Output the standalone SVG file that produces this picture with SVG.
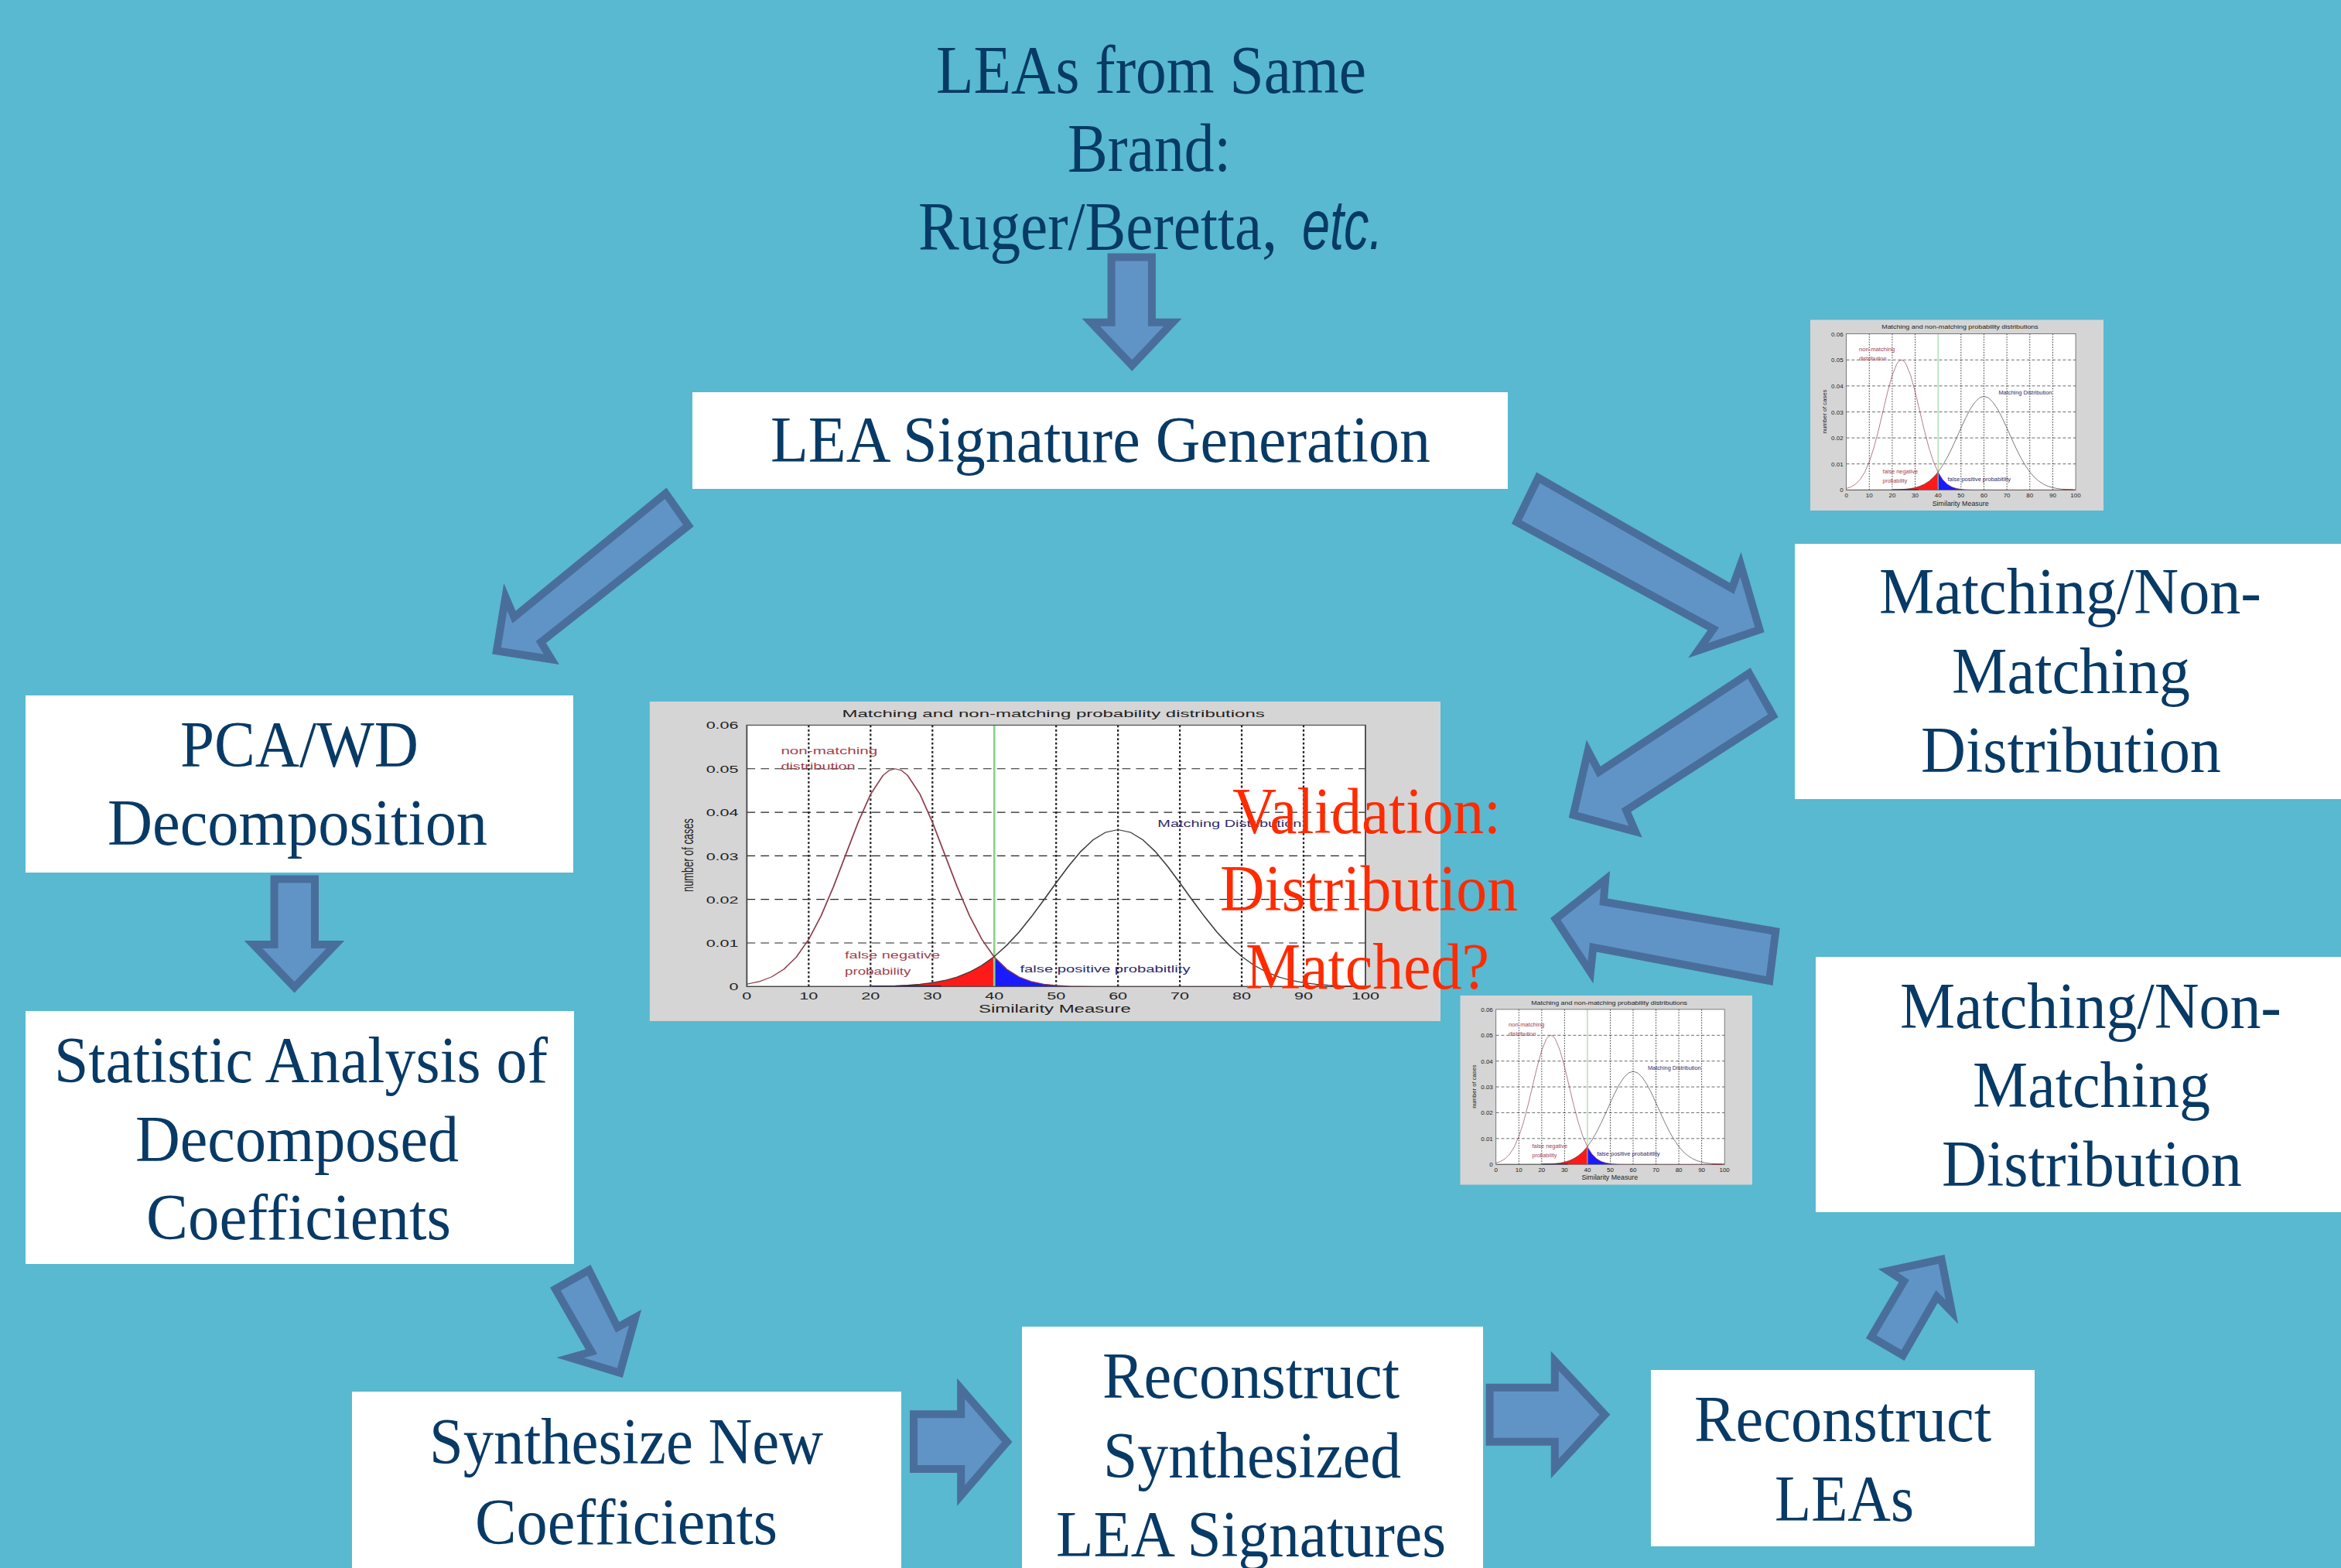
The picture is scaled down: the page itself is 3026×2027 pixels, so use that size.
<svg xmlns="http://www.w3.org/2000/svg" xmlns:xlink="http://www.w3.org/1999/xlink" width="3026" height="2027" viewBox="0 0 3026 2027">
<style>
.bg{fill:#58B9D0}
.box{fill:#FFFFFF}
.t{font-family:"Liberation Serif","Times New Roman",serif;font-size:84px;fill:#083A66}
.ti{font-size:88px}
.v{font-family:"Liberation Serif","Times New Roman",serif;font-size:85px;fill:#FF2B00}
.arrow{fill:#6094C6;stroke:#4A6E9B;stroke-width:20;stroke-linejoin:miter}
.cs{font-family:"Liberation Sans",Arial,sans-serif;font-size:24px;fill:#222222}
.cr{font-family:"Liberation Sans",Arial,sans-serif;font-size:23px;fill:#A2414E}
.cb{font-family:"Liberation Sans",Arial,sans-serif;font-size:23px;fill:#2B2B6B}
.gh{stroke:#222;stroke-width:2;stroke-dasharray:12 8;fill:none}
.gv{stroke:#222;stroke-width:2.5;stroke-dasharray:5 5;fill:none}
</style>
<defs>
<polygon id="a1" points="1431.6,327.5 1493.9,327.5 1493.9,411.7 1527.5,411.7 1463.3,479.7 1398.5,411.7 1431.6,411.7"/>
<polygon id="a2" points="861.5,630.4 896.7,680.4 705.8,831.3 722.8,858.9 636.2,845.5 651.3,754 666.5,789.7"/>
<polygon id="a3" points="349.6,1131.5 412,1131.5 412,1216 445.2,1216 380.6,1283.5 315.7,1216 349.6,1216"/>
<polygon id="a4" points="711.1,1664.6 763.4,1635 800.4,1708.9 829.1,1692.9 804.8,1781 719.4,1755 757,1744.4"/>
<polygon id="a5" points="1176,1823.3 1237.2,1823.3 1237.2,1781.7 1308.4,1864 1237.2,1946.7 1237.2,1904 1176,1904"/>
<polygon id="a6" points="1920.6,1788.7 2004.8,1788.7 2004.8,1746.7 2081.3,1828.7 2004.8,1911 2004.8,1868.7 1920.6,1868.7"/>
<polygon id="a7" points="2411.9,1730 2461.5,1759 2504.6,1684.2 2531.2,1711.6 2513.5,1621.9 2427.8,1640.4 2454.4,1657.8"/>
<polygon id="a8" points="1986.2,610.6 2236.1,753.5 2250.5,713.7 2280.6,817.2 2182.2,850.4 2207.4,814.7 1953.9,677"/>
<polygon id="a9" points="2262.6,863.2 2298.6,926.9 2108.3,1049.4 2122.6,1082.6 2027.8,1057 2050.8,956.5 2068.8,990.7"/>
<polygon id="a10" points="2300.7,1199.9 2291.4,1273.9 2063.7,1230.5 2059.4,1271.3 2004.1,1187.1 2081,1125.9 2078.1,1161.6"/>
<clipPath id="c1"><use xlink:href="#a1" href="#a1"/></clipPath>
<clipPath id="c2"><use xlink:href="#a2" href="#a2"/></clipPath>
<clipPath id="c3"><use xlink:href="#a3" href="#a3"/></clipPath>
<clipPath id="c4"><use xlink:href="#a4" href="#a4"/></clipPath>
<clipPath id="c5"><use xlink:href="#a5" href="#a5"/></clipPath>
<clipPath id="c6"><use xlink:href="#a6" href="#a6"/></clipPath>
<clipPath id="c7"><use xlink:href="#a7" href="#a7"/></clipPath>
<clipPath id="c8"><use xlink:href="#a8" href="#a8"/></clipPath>
<clipPath id="c9"><use xlink:href="#a9" href="#a9"/></clipPath>
<clipPath id="c10"><use xlink:href="#a10" href="#a10"/></clipPath>
<symbol id="chart" viewBox="0 0 1138 740" preserveAspectRatio="none">
<rect x="0" y="0" width="1138" height="740" fill="#D5D5D5"/>
<rect x="140" y="55" width="890" height="605" fill="#FFFFFF"/>
<g class="gv">
<line x1="229" y1="55" x2="229" y2="660"/><line x1="318" y1="55" x2="318" y2="660"/><line x1="407" y1="55" x2="407" y2="660"/><line x1="585" y1="55" x2="585" y2="660"/><line x1="674" y1="55" x2="674" y2="660"/><line x1="763" y1="55" x2="763" y2="660"/><line x1="852" y1="55" x2="852" y2="660"/><line x1="941" y1="55" x2="941" y2="660"/>
</g>
<g class="gh">
<line x1="140" y1="155.9" x2="1030" y2="155.9"/><line x1="140" y1="256.7" x2="1030" y2="256.7"/><line x1="140" y1="357.5" x2="1030" y2="357.5"/><line x1="140" y1="458.3" x2="1030" y2="458.3"/><line x1="140" y1="559.2" x2="1030" y2="559.2"/>
</g>
<polygon fill="#FF1A1A" points="318,660 318,659.5 353.6,658.3 371.4,656.9 389.2,654.7 407,651.2 424.8,645.8 442.6,637.8 460.4,626.4 478.2,610.9 496,590.5 496,660"/>
<polygon fill="#1A1AFF" points="496,660 496,591.8 513.8,619.9 531.6,637.8 549.4,648.5 567.2,654.4 585,657.4 602.8,658.9 620.6,660"/>
<line x1="496" y1="55" x2="496" y2="660" stroke="#8CD08C" stroke-width="3"/>
<polyline fill="none" stroke="#8B3A48" stroke-width="2" points="140,654.4 157.8,648.5 175.6,637.8 193.4,619.9 211.2,591.8 229,550.9 246.8,496.3 264.6,429.2 282.4,354.2 300.2,279.5 318,215.1 335.8,171.4 344.7,159.8 353.6,155.9 362.5,159.8 371.4,171.4 389.2,215.1 407,279.5 424.8,354.2 442.6,429.2 460.4,496.3 478.2,550.9 496,591.8 513.8,619.9 531.6,637.8 549.4,648.5 567.2,654.4 585,657.4 602.8,658.9 638.4,659.8 1030,660"/>
<polyline fill="none" stroke="#3A3A3A" stroke-width="2" points="140,660 318,659.5 353.6,658.3 371.4,656.9 389.2,654.7 407,651.2 424.8,645.8 442.6,637.8 460.4,626.4 478.2,610.9 496,590.5 513.8,564.8 531.6,534 549.4,498.5 567.2,459.8 585,419.9 602.8,381.4 620.6,347.2 638.4,320.2 656.2,302.9 674,297 691.8,302.9 709.6,320.2 727.4,347.2 745.2,381.4 763,419.9 780.8,459.8 798.6,498.5 816.4,534 834.2,564.8 852,590.5 869.8,610.9 887.6,626.4 905.4,637.8 923.2,645.8 941,651.2 958.8,654.7 976.6,656.9 994.4,658.3 1012.2,659.1 1030,659.5"/>
<line x1="320" y1="659" x2="420" y2="659" stroke="#1A1A6A" stroke-width="3"/>
<line x1="980" y1="659" x2="1020" y2="659" stroke="#C02020" stroke-width="3"/>
<rect x="140" y="55" width="890" height="605" fill="none" stroke="#444444" stroke-width="2"/>
<text class="cs" x="581" y="36" text-anchor="middle" textLength="608" lengthAdjust="spacingAndGlyphs">Matching and non-matching probability distributions</text>
<g class="cs" text-anchor="end">
<text x="128" y="64">0.06</text><text x="128" y="165">0.05</text><text x="128" y="266">0.04</text><text x="128" y="367">0.03</text><text x="128" y="467">0.02</text><text x="128" y="568">0.01</text><text x="128" y="669">0</text>
</g>
<g class="cs" text-anchor="middle">
<text x="140" y="690">0</text><text x="229" y="690">10</text><text x="318" y="690">20</text><text x="407" y="690">30</text><text x="496" y="690">40</text><text x="585" y="690">50</text><text x="674" y="690">60</text><text x="763" y="690">70</text><text x="852" y="690">80</text><text x="941" y="690">90</text><text x="1030" y="690">100</text>
</g>
<text class="cs" x="583" y="721" text-anchor="middle" textLength="219" lengthAdjust="spacingAndGlyphs" style="font-size:26px">Similarity Measure</text>
<text class="cs" transform="translate(63,356) rotate(-90)" text-anchor="middle" textLength="170" lengthAdjust="spacingAndGlyphs" style="font-size:23px">number of cases</text>
<text class="cr" x="189" y="122" textLength="139" lengthAdjust="spacingAndGlyphs">non-matching</text>
<text class="cr" x="189" y="158" textLength="107" lengthAdjust="spacingAndGlyphs">distribution</text>
<text class="cb" x="731" y="291" textLength="207" lengthAdjust="spacingAndGlyphs">Matching Distribution</text>
<text class="cr" x="281" y="595" textLength="137" lengthAdjust="spacingAndGlyphs">false negative</text>
<text class="cr" x="281" y="632" textLength="95" lengthAdjust="spacingAndGlyphs">probability</text>
<text class="cb" x="533" y="627" textLength="245" lengthAdjust="spacingAndGlyphs">false positive probabitlity</text>
</symbol>
</defs>
<rect class="bg" x="0" y="0" width="3026" height="2027"/>
<g id="charts">
<use id="chart-main" xlink:href="#chart" href="#chart" x="839.6" y="906.7" width="1022.4" height="413.3"/>
<use id="chart-top" xlink:href="#chart" href="#chart" x="2340" y="413.3" width="379" height="246.7"/>
<use id="chart-mid" xlink:href="#chart" href="#chart" x="1887.3" y="1286.7" width="377.7" height="245"/>
</g>
<g id="title">
<text class="t ti" x="1210" y="120" textLength="556" lengthAdjust="spacingAndGlyphs">LEAs from Same</text>
<text class="t ti" x="1380" y="221" textLength="211" lengthAdjust="spacingAndGlyphs">Brand:</text>
<text class="t ti" transform="translate(1187,322) scale(0.9,1)" x="0" y="0">Ruger/Beretta,</text>
<text transform="translate(1683,322) scale(0.72,1)" x="0" y="0" style="font-family:'Liberation Sans',Arial,sans-serif;font-style:italic;font-size:90px;fill:#083A66">etc.</text>
</g>
<g id="node-signature">
<rect class="box" x="895" y="507" width="1054" height="125"/>
<text class="t" x="996" y="597" textLength="853" lengthAdjust="spacingAndGlyphs">LEA Signature Generation</text>
</g>
<g id="node-pca">
<rect class="box" x="33" y="899" width="708" height="229"/>
<text class="t" x="233" y="991" textLength="308" lengthAdjust="spacingAndGlyphs">PCA/WD</text>
<text class="t" x="139" y="1092" textLength="491" lengthAdjust="spacingAndGlyphs">Decomposition</text>
</g>
<g id="node-statistic">
<rect class="box" x="33" y="1307" width="709" height="327"/>
<text class="t" x="70" y="1399" textLength="638" lengthAdjust="spacingAndGlyphs">Statistic Analysis of</text>
<text class="t" x="175" y="1501" textLength="418" lengthAdjust="spacingAndGlyphs">Decomposed</text>
<text class="t" x="189" y="1602" textLength="394" lengthAdjust="spacingAndGlyphs">Coefficients</text>
</g>
<g id="node-synthesize">
<rect class="box" x="455" y="1799" width="710" height="240"/>
<text class="t" x="555" y="1892" textLength="509" lengthAdjust="spacingAndGlyphs">Synthesize New</text>
<text class="t" x="614" y="1996" textLength="391" lengthAdjust="spacingAndGlyphs">Coefficients</text>
</g>
<g id="node-reconstruct-signatures">
<rect class="box" x="1321" y="1715" width="596" height="330"/>
<text class="t" x="1425" y="1807" textLength="384" lengthAdjust="spacingAndGlyphs">Reconstruct</text>
<text class="t" x="1426" y="1910" textLength="385" lengthAdjust="spacingAndGlyphs">Synthesized</text>
<text class="t" x="1365" y="2012" textLength="504" lengthAdjust="spacingAndGlyphs">LEA Signatures</text>
</g>
<g id="node-reconstruct-leas">
<rect class="box" x="2134" y="1771" width="496" height="228"/>
<text class="t" x="2190" y="1863" textLength="384" lengthAdjust="spacingAndGlyphs">Reconstruct</text>
<text class="t" x="2294" y="1966" textLength="180" lengthAdjust="spacingAndGlyphs">LEAs</text>
</g>
<g id="node-matching-1">
<rect class="box" x="2320" y="703" width="720" height="330"/>
<text class="t" x="2429" y="793" textLength="494" lengthAdjust="spacingAndGlyphs">Matching/Non-</text>
<text class="t" x="2523" y="896" textLength="308" lengthAdjust="spacingAndGlyphs">Matching</text>
<text class="t" x="2483" y="998" textLength="388" lengthAdjust="spacingAndGlyphs">Distribution</text>
</g>
<g id="node-matching-2">
<rect class="box" x="2347" y="1237" width="690" height="330"/>
<text class="t" x="2456" y="1329" textLength="493" lengthAdjust="spacingAndGlyphs">Matching/Non-</text>
<text class="t" x="2550" y="1431" textLength="307" lengthAdjust="spacingAndGlyphs">Matching</text>
<text class="t" x="2510" y="1533" textLength="388" lengthAdjust="spacingAndGlyphs">Distribution</text>
</g>
<g id="node-validation">
<text class="v" x="1593" y="1077" textLength="347" lengthAdjust="spacingAndGlyphs">Validation:</text>
<text class="v" x="1577" y="1177" textLength="385" lengthAdjust="spacingAndGlyphs">Distribution</text>
<text class="v" x="1610" y="1278" textLength="315" lengthAdjust="spacingAndGlyphs">Matched?</text>
</g>
<g id="connectors">
<use class="arrow" xlink:href="#a1" href="#a1" clip-path="url(#c1)"/>
<use class="arrow" xlink:href="#a2" href="#a2" clip-path="url(#c2)"/>
<use class="arrow" xlink:href="#a3" href="#a3" clip-path="url(#c3)"/>
<use class="arrow" xlink:href="#a4" href="#a4" clip-path="url(#c4)"/>
<use class="arrow" xlink:href="#a5" href="#a5" clip-path="url(#c5)"/>
<use class="arrow" xlink:href="#a6" href="#a6" clip-path="url(#c6)"/>
<use class="arrow" xlink:href="#a7" href="#a7" clip-path="url(#c7)"/>
<use class="arrow" xlink:href="#a8" href="#a8" clip-path="url(#c8)"/>
<use class="arrow" xlink:href="#a9" href="#a9" clip-path="url(#c9)"/>
<use class="arrow" xlink:href="#a10" href="#a10" clip-path="url(#c10)"/>
</g>
</svg>
